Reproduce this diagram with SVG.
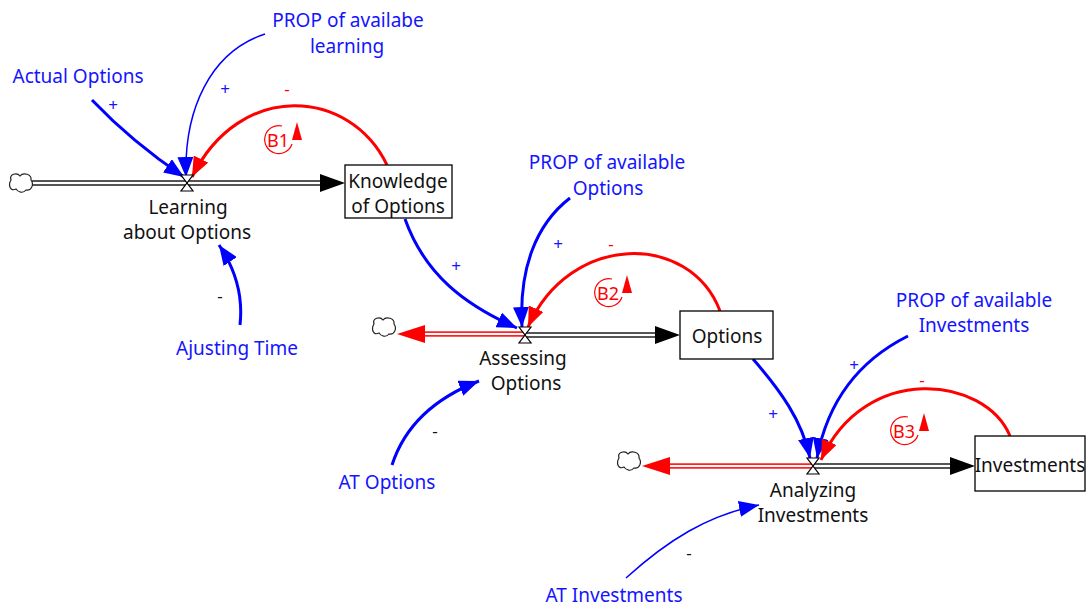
<svg xmlns="http://www.w3.org/2000/svg" width="1087" height="608" viewBox="0 0 1087 608">
<style>
text{font-family:"Noto Sans","Open Sans","DejaVu Sans",sans-serif;font-size:19px;text-anchor:middle}
.blue{fill:#1414ff}
.blk{fill:#111}
.sign{font-size:17px}
.red{fill:#ff0000}
.lk{fill:none;stroke:#0000ff;stroke-width:3}
.lkt{fill:none;stroke:#0000ff;stroke-width:1.5}
.lkr{fill:none;stroke:#ff0000;stroke-width:3}
.box{fill:#fff;stroke:#000;stroke-width:1.3}
.valve{fill:#fff;stroke:#000;stroke-width:1.2}
.cloud{fill:#fff;stroke:#222;stroke-width:1.2}
.pipeo{stroke:#555;stroke-width:6;fill:none}
.pipei{stroke:#fff;stroke-width:2;fill:none}
.rpipeo{stroke:#ff2020;stroke-width:5.5;fill:none}
.rpipei{stroke:#fff;stroke-width:1.8;fill:none}
.loop{fill:none;stroke:#ff0000;stroke-width:1.2}
.looptxt{font-size:18px;fill:#ff0000}
</style>
<defs>
<marker id="ab" markerUnits="userSpaceOnUse" markerWidth="22" markerHeight="16" refX="20" refY="8" orient="auto"><path d="M0,0 L20,8 L0,16 z" fill="#0000ff"/></marker>
<marker id="ar" markerUnits="userSpaceOnUse" markerWidth="22" markerHeight="16" refX="20" refY="8" orient="auto"><path d="M0,0 L20,8 L0,16 z" fill="#ff0000"/></marker>
<path id="cl" d="M-10,-3 C-12,-9 -4,-11 -1,-7 C2,-11 11,-9 10,-3 C13,1 11,8 5,7 C2,11 -3,9 -5,6 C-11,9 -13,2 -10,-3 z"/>
</defs>

<g id="flows">
  <line class="pipeo" x1="32" y1="183" x2="322" y2="183"/>
  <line class="pipei" x1="32" y1="183" x2="322" y2="183"/>
  <polygon points="320,174 345,183 320,192" fill="#000"/>
  <line class="rpipeo" x1="423" y1="334" x2="525" y2="334"/>
  <line class="rpipei" x1="423" y1="334" x2="525" y2="334"/>
  <polygon points="397,334 425,325 425,343" fill="#ff0000"/>
  <line class="pipeo" x1="525" y1="335" x2="657" y2="335"/>
  <line class="pipei" x1="525" y1="335" x2="657" y2="335"/>
  <polygon points="655,326 680,335 655,344" fill="#000"/>
  <line class="rpipeo" x1="668" y1="466" x2="813" y2="466"/>
  <line class="rpipei" x1="668" y1="466" x2="813" y2="466"/>
  <polygon points="642,466 670,457 670,475" fill="#ff0000"/>
  <line class="pipeo" x1="813" y1="466" x2="952" y2="466"/>
  <line class="pipei" x1="813" y1="466" x2="952" y2="466"/>
  <polygon points="950,457 975,466 950,475" fill="#000"/>
</g>

<g id="clouds">
  <use href="#cl" class="cloud" transform="translate(21,183)"/>
  <use href="#cl" class="cloud" transform="translate(384,327)"/>
  <use href="#cl" class="cloud" transform="translate(629,461)"/>
</g>

<g id="connectors">
  <path class="lk" d="M92,100 Q132,142 184,177" marker-end="url(#ab)"/>
  <path class="lkt" d="M265,34 C210,52 184,110 186,177" marker-end="url(#ab)"/>
  <path class="lkr" d="M387,165 C350,88 240,80 192,177" marker-end="url(#ar)"/>
  <path class="lk" d="M240,325 C243,298 236,270 219,245" marker-end="url(#ab)"/>
  <path class="lk" d="M405,219 C425,275 465,305 517,328" marker-end="url(#ab)"/>
  <path class="lk" d="M570,198 C535,225 519,270 522,327" marker-end="url(#ab)"/>
  <path class="lkr" d="M720,311 C690,232 570,232 528,327" marker-end="url(#ar)"/>
  <path class="lk" d="M392,465 C405,425 435,398 479,381" marker-end="url(#ab)"/>
  <path class="lk" d="M753,359 C780,390 802,420 810,458" marker-end="url(#ab)"/>
  <path class="lk" d="M908,336 C860,360 828,400 817,458" marker-end="url(#ab)"/>
  <path class="lkr" d="M1010,436 C985,376 865,362 821,460" marker-end="url(#ar)"/>
  <path class="lkt" d="M626,578 C668,540 708,515 759,505" marker-end="url(#ab)"/>
  <text class="blue sign" x="113" y="111">+</text>
  <text class="blue sign" x="225" y="95">+</text>
  <text class="red sign" x="287" y="95">-</text>
  <text class="blk sign" x="220" y="302">-</text>
  <text class="blue sign" x="456" y="272">+</text>
  <text class="blue sign" x="558" y="250">+</text>
  <text class="red sign" x="611" y="250">-</text>
  <text class="blk sign" x="435" y="437">-</text>
  <text class="blue sign" x="773" y="420">+</text>
  <text class="blue sign" x="854" y="371">+</text>
  <text class="red sign" x="922" y="386">-</text>
  <text class="blk sign" x="689" y="559">-</text>
</g>

<g id="loop-B1">
  <path class="loop" d="M282,126 A14,14 0 1 0 292,144"/>
  <polygon points="292,140 302,140 297,122" fill="#ff0000"/>
  <text class="looptxt" x="278" y="147">B1</text>
</g>
<g id="loop-B2">
  <path class="loop" d="M612,279 A14,14 0 1 0 622,297"/>
  <polygon points="622,293 632,293 627,275" fill="#ff0000"/>
  <text class="looptxt" x="608" y="300">B2</text>
</g>
<g id="loop-B3">
  <path class="loop" d="M908,417 A14,14 0 1 0 918,435"/>
  <polygon points="919,431 929,431 924,413" fill="#ff0000"/>
  <text class="looptxt" x="904" y="438">B3</text>
</g>

<g id="valve-learning">
  <path class="valve" d="M181,175 L193,175 L181,191 L193,191 Z"/>
  <text class="blk" x="188" y="214">Learning</text>
  <text class="blk" x="187" y="239">about Options</text>
</g>
<g id="valve-assessing">
  <path class="valve" d="M519,327 L531,327 L519,343 L531,343 Z"/>
  <text class="blk" x="523" y="365">Assessing</text>
  <text class="blk" x="526" y="390">Options</text>
</g>
<g id="valve-analyzing">
  <path class="valve" d="M807,458 L819,458 L807,474 L819,474 Z"/>
  <text class="blk" x="813" y="497">Analyzing</text>
  <text class="blk" x="813" y="522">Investments</text>
</g>

<g id="stock-knowledge">
  <rect class="box" x="345" y="165" width="107" height="53"/>
  <text class="blk" x="398" y="188">Knowledge</text>
  <text class="blk" x="398" y="213">of Options</text>
</g>
<g id="stock-options">
  <rect class="box" x="680" y="311" width="93" height="48"/>
  <text class="blk" x="727" y="343">Options</text>
</g>
<g id="stock-investments">
  <rect class="box" x="975" y="436" width="110" height="55"/>
  <text class="blk" x="1030" y="472">Investments</text>
</g>

<g id="var-actual-options"><text class="blue" x="78" y="83">Actual Options</text></g>
<g id="var-prop-learning"><text class="blue" x="348" y="27">PROP of availabe</text><text class="blue" x="347" y="53">learning</text></g>
<g id="var-ajusting-time"><text class="blue" x="237" y="355">Ajusting Time</text></g>
<g id="var-prop-options"><text class="blue" x="607" y="169">PROP of available</text><text class="blue" x="608" y="195">Options</text></g>
<g id="var-at-options"><text class="blue" x="387" y="489">AT Options</text></g>
<g id="var-prop-investments"><text class="blue" x="974" y="307">PROP of available</text><text class="blue" x="974" y="332">Investments</text></g>
<g id="var-at-investments"><text class="blue" x="614" y="602">AT Investments</text></g>
</svg>
